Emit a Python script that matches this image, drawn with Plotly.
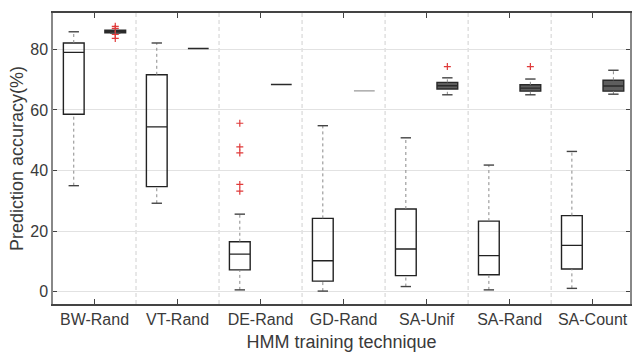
import plotly.graph_objects as go

# Training techniques on the x axis
techniques = ["BW-Rand", "VT-Rand", "DE-Rand", "GD-Rand", "SA-Unif", "SA-Rand", "SA-Count"]

# First box of each pair (open boxes): five-number summaries in %
set1_low = [35.0, 29.2, 0.6, 0.2, 1.7, 0.6, 1.1]
set1_q1 = [58.6, 34.7, 7.2, 3.5, 5.3, 5.6, 7.5]
set1_med = [79.0, 54.4, 12.4, 10.2, 14.1, 11.9, 15.3]
set1_q3 = [82.1, 71.6, 16.5, 24.2, 27.3, 23.3, 25.1]
set1_high = [85.8, 82.1, 25.6, 54.8, 50.8, 41.8, 46.3]
set1_outliers = [[], [], [55.6, 47.8, 45.8, 35.4, 33.2], [], [], [], []]

# Second box of each pair (narrow, shaded boxes)
set2_low = [85.4, 80.3, 68.4, 66.3, 65.0, 65.0, 65.2]
set2_q1 = [85.5, 80.3, 68.4, 66.3, 66.9, 66.2, 66.2]
set2_med = [85.9, 80.3, 68.4, 66.3, 68.0, 67.2, 67.9]
set2_q3 = [86.3, 80.3, 68.4, 66.3, 69.1, 68.3, 69.8]
set2_high = [86.3, 80.3, 68.4, 66.3, 70.6, 70.2, 73.1]
set2_outliers = [[87.6, 86.9, 84.9, 83.6], [], [], [], [74.3], [74.3], []]

y_ticks = [0, 20, 40, 60, 80]

OFFSET = 0.25      # box centre offset from the category tick
BOX_W = 0.25       # box width in category units
CAP_W = BOX_W / 2  # whisker cap width

fig = go.Figure()


def add_box(pos, lo, q1, med, q3, hi, outliers, fill, line_color):
    fig.add_trace(go.Box(
        x=[pos], q1=[q1], median=[med], q3=[q3],
        lowerfence=[q1], upperfence=[q3],
        width=BOX_W, whiskerwidth=0,
        fillcolor=fill, line=dict(color=line_color, width=1.4),
        boxpoints=False, showlegend=False, hoverinfo="skip",
    ))
    # dashed whiskers
    for a, b in ((lo, q1), (q3, hi)):
        if b - a > 0:
            fig.add_trace(go.Scatter(
                x=[pos, pos], y=[a, b], mode="lines",
                line=dict(color="#8a8a8a", width=1, dash="3px,3px"),
                showlegend=False, hoverinfo="skip",
            ))
    # whisker caps
    for v, ref in ((lo, q1), (hi, q3)):
        if abs(v - ref) > 0:
            fig.add_trace(go.Scatter(
                x=[pos - CAP_W / 2, pos + CAP_W / 2], y=[v, v], mode="lines",
                line=dict(color="#444444", width=1.4),
                showlegend=False, hoverinfo="skip",
            ))
    if outliers:
        fig.add_trace(go.Scatter(
            x=[pos] * len(outliers), y=outliers, mode="markers",
            marker=dict(symbol="cross-thin", size=5,
                        line=dict(color="#e03a3a", width=1.2)),
            showlegend=False, hoverinfo="skip",
        ))


for i in range(len(techniques)):
    add_box(i - OFFSET, set1_low[i], set1_q1[i], set1_med[i], set1_q3[i],
            set1_high[i], set1_outliers[i], "rgba(255,255,255,0)", "#222222")
    degenerate = set2_q3[i] - set2_q1[i] == 0
    line_c = "#999999" if techniques[i] == "GD-Rand" else "#2a2a2a"
    add_box(i + OFFSET, set2_low[i], set2_q1[i], set2_med[i], set2_q3[i],
            set2_high[i], set2_outliers[i],
            "rgba(255,255,255,0)" if degenerate else "#5e5e5e", line_c)

# dashed separators between technique groups
for i in range(len(techniques) - 1):
    fig.add_vline(x=i + 0.5, line=dict(color="#d0d0d0", width=1, dash="4px,3px"),
                  layer="below")

fig.update_layout(
    width=632, height=352,
    margin=dict(l=53, r=0, t=13, b=48),
    plot_bgcolor="white", paper_bgcolor="white",
    font=dict(family="Liberation Sans, Arial, sans-serif", color="#3a3a3a"),
)
fig.update_xaxes(
    range=[-0.5, 6.45], tickvals=list(range(len(techniques))), ticktext=techniques,
    tickfont=dict(size=16), ticks="inside", ticklen=5, tickcolor="#444444",
    showgrid=False, zeroline=False,
    showline=True, linecolor="#444444", linewidth=1.5, mirror="ticks",
    title=dict(text="HMM training technique", font=dict(size=18), standoff=9),
)
fig.update_yaxes(
    range=[-4.06, 92], tickvals=y_ticks, tickfont=dict(size=16),
    ticks="inside", ticklen=4, tickcolor="#444444",
    showgrid=True, gridcolor="#e2e2e2", gridwidth=1, zeroline=False,
    showline=True, linecolor="#888888", linewidth=1.5, mirror="ticks",
    title=dict(text="Prediction accuracy(%)", font=dict(size=18), standoff=2),
)

fig.write_html("out.html")
